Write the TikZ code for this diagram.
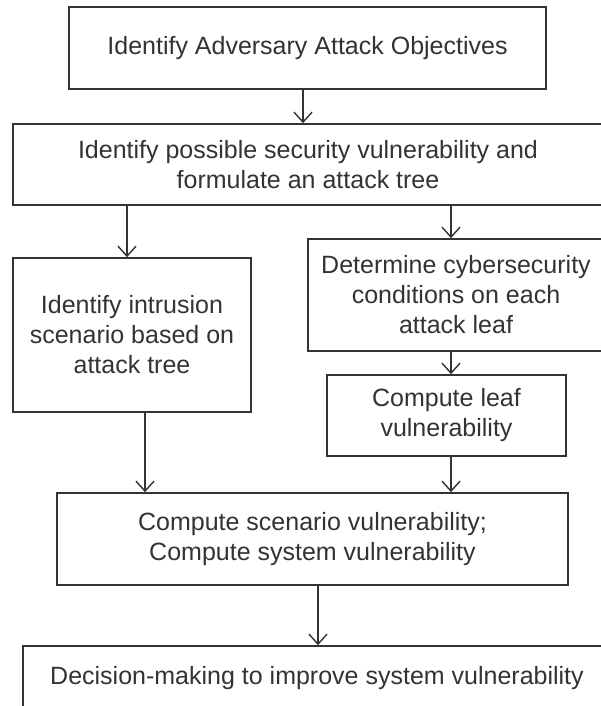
\documentclass[tikz,border=0pt]{standalone}
\usepackage{fontspec}
\setmainfont{Liberation Sans}
\usetikzlibrary{arrows.meta}
\definecolor{ink}{HTML}{333333}
\begin{document}
\begin{tikzpicture}[x=1pt,y=-1pt,
  box/.style={draw=ink, line width=1.6pt, fill=white, align=center, inner sep=0pt,
    text=ink, font=\fontsize{25}{30}\selectfont},
  arr/.style={draw=ink, line width=1.4pt, -{Straight Barb[length=10pt,width=18pt,line width=1.4pt]}}]
\useasboundingbox[fill=white] (0,0) rectangle (600,706);
\node[box, minimum width=477pt, minimum height=82pt] (b1) at (307.5,48) {Identify Adversary Attack Objectives};
\node[box, minimum width=590pt, minimum height=81pt] (b2) at (308,164.5) {Identify possible security vulnerability and\\formulate an attack tree};
\node[box, minimum width=238pt, minimum height=154pt] (b3) at (132,335) {Identify intrusion\\scenario based on\\attack tree};
\node[box, minimum width=296pt, minimum height=112pt] (b4) at (456,295) {Determine cybersecurity\\conditions on each\\attack leaf};
\node[box, minimum width=239pt, minimum height=81pt] (b5) at (446.5,415.5) {Compute leaf\\vulnerability};
\node[box, minimum width=511pt, minimum height=92pt] (b6) at (312.5,539) {Compute scenario vulnerability;\\Compute system vulnerability};
\node[box, minimum width=588pt, minimum height=64pt] (b7) at (317,678) {Decision-making to improve system vulnerability};
\coordinate (xa) at (303,0);
\coordinate (xb) at (127,0);
\coordinate (xc) at (451,0);
\coordinate (xd) at (145,0);
\coordinate (xe) at (318,0);
\draw[arr] (b1.south -| xa) -- (b2.north -| xa);
\draw[arr] (b2.south -| xb) -- (b3.north -| xb);
\draw[arr] (b2.south -| xc) -- (b4.north -| xc);
\draw[arr] (b4.south -| xc) -- (b5.north -| xc);
\draw[arr] (b3.south -| xd) -- (b6.north -| xd);
\draw[arr] (b5.south -| xc) -- (b6.north -| xc);
\draw[arr] (b6.south -| xe) -- (b7.north -| xe);
\end{tikzpicture}
\end{document}
